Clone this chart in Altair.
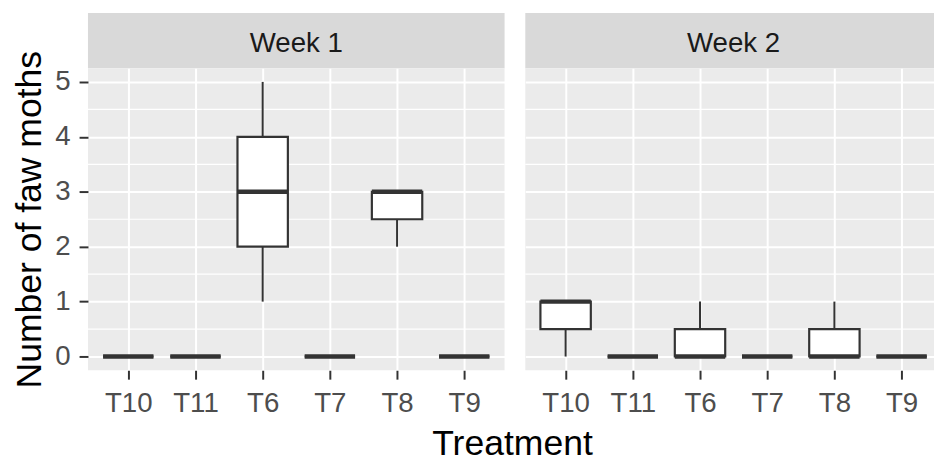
import json
import altair as alt
import pandas as pd

# ---- data ----
treatments = ["T10", "T11", "T6", "T7", "T8", "T9"]
weeks = ["Week 1", "Week 2"]

w1_lower = [0, 0, 1, 0, 2, 0]
w1_q1 = [0, 0, 2, 0, 2.5, 0]
w1_median = [0, 0, 3, 0, 3, 0]
w1_q3 = [0, 0, 4, 0, 3, 0]
w1_upper = [0, 0, 5, 0, 3, 0]

w2_lower = [0, 0, 0, 0, 0, 0]
w2_q1 = [0.5, 0, 0, 0, 0, 0]
w2_median = [1, 0, 0, 0, 0, 0]
w2_q3 = [1, 0, 0.5, 0, 0.5, 0]
w2_upper = [1, 0, 1, 0, 1, 0]

y_breaks = [0, 1, 2, 3, 4, 5]
y_minor = [0.5, 1.5, 2.5, 3.5, 4.5]

# ---- style ----
FONT = "Liberation Sans"
PW1, PW2, PH, SH = 422, 414, 306, 56
UNIT = PW1 / 6.2
X_DOM1 = [-0.6, 5.6]
X_DOM2 = [-0.6, -0.6 + PW2 / UNIT]
Y_DOM = [-0.25, 5.25]
DARK = "#333333"
LABEL_EXPR = json.dumps(treatments) + "[datum.value]"


def panel(week, lower, q1, med, q3, upper, xdom, pw, show_y):
    df = pd.DataFrame({
        "Treatment": treatments,
        "idx": list(range(len(treatments))),
        "lower": lower, "q1": q1, "median": med, "q3": q3, "upper": upper,
    })
    xs = alt.Scale(domain=xdom, nice=False, zero=False)
    ys = alt.Scale(domain=Y_DOM, nice=False, zero=False)
    xaxis = alt.Axis(values=list(range(len(treatments))), labelExpr=LABEL_EXPR,
                     title=None, grid=True, gridColor="white", gridWidth=2,
                     domain=False, ticks=True, tickColor=DARK, tickWidth=2,
                     tickSize=9, labelFont=FONT, labelFontSize=28,
                     labelColor="#4D4D4D", labelPadding=11, labelFlush=False)
    if show_y:
        yaxis = alt.Axis(values=y_breaks, title="Number of faw moths",
                         grid=True, gridColor="white", gridWidth=2,
                         domain=False, ticks=True, tickColor=DARK, tickWidth=2,
                         tickSize=9, labelFont=FONT, labelFontSize=28,
                         labelColor="#4D4D4D", labelPadding=9,
                         titleFont=FONT, titleFontSize=36, titleColor="black",
                         titleFontWeight="normal", titlePadding=7, labelFlush=False)
    else:
        yaxis = alt.Axis(values=y_breaks, title=None, grid=True,
                         gridColor="white", gridWidth=2, domain=False,
                         ticks=False, labels=False)

    base = alt.Chart(df).transform_calculate(
        x_lo="datum.idx - 0.375", x_hi="datum.idx + 0.375")

    minor = alt.Chart(pd.DataFrame({"v": y_minor})).mark_rule(
        color="white", strokeWidth=1.2).encode(
        y=alt.Y("v:Q", scale=ys, axis=yaxis))

    wlo = base.mark_rule(color=DARK, strokeWidth=2).encode(
        x=alt.X("idx:Q", scale=xs, axis=xaxis),
        y=alt.Y("lower:Q", scale=ys, axis=yaxis), y2="q1:Q")
    whi = base.mark_rule(color=DARK, strokeWidth=2).encode(
        x=alt.X("idx:Q", scale=xs, axis=xaxis),
        y=alt.Y("q3:Q", scale=ys, axis=yaxis), y2="upper:Q")
    box = base.mark_rect(fill="white", stroke=DARK, strokeWidth=2.2).encode(
        x=alt.X("x_lo:Q", scale=xs, axis=xaxis), x2="x_hi:Q",
        y=alt.Y("q1:Q", scale=ys, axis=yaxis), y2="q3:Q")
    medl = base.mark_rule(color=DARK, strokeWidth=4.5).encode(
        x=alt.X("x_lo:Q", scale=xs, axis=xaxis), x2="x_hi:Q",
        y=alt.Y("median:Q", scale=ys, axis=yaxis))

    plot = alt.layer(minor, wlo, whi, box, medl).properties(
        width=pw, height=PH,
        view=alt.ViewBackground(fill="#EBEBEB", stroke=None))

    strip = alt.Chart(pd.DataFrame({"label": [week]})).mark_text(
        font=FONT, fontSize=28, color="#1A1A1A", baseline="middle", dy=4).encode(
        text="label:N", x=alt.value(PW1 / 2), y=alt.value(SH / 2)).properties(
        width=pw, height=SH,
        view=alt.ViewBackground(fill="#D9D9D9", stroke=None))

    return alt.vconcat(strip, plot, spacing=0, bounds="flush")


p1 = panel(weeks[0], w1_lower, w1_q1, w1_median, w1_q3, w1_upper, X_DOM1, PW1, True)
p2 = panel(weeks[1], w2_lower, w2_q1, w2_median, w2_q3, w2_upper, X_DOM2, PW2, False)

chart = alt.hconcat(p1, p2, spacing=19).properties(
    title=alt.TitleParams(text="Treatment", orient="bottom", anchor="middle",
                          font=FONT, fontSize=36, fontWeight="normal",
                          color="black", offset=10, dx=40),
    padding={"left": 3, "top": 2, "right": 0, "bottom": 0},
    background="white",
).configure_view(stroke=None)

chart.save("out.html", embed_options={"renderer": "svg", "actions": False})
